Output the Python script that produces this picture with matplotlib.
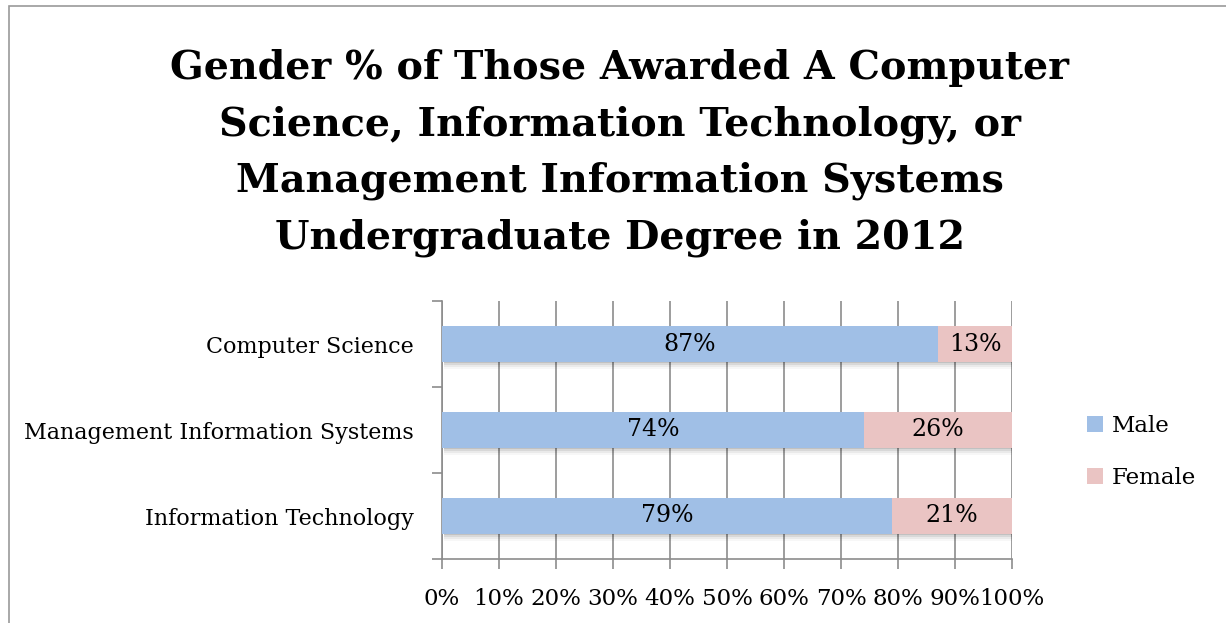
import matplotlib
matplotlib.use("Agg")
import matplotlib.pyplot as plt
from matplotlib.patches import Rectangle
import numpy as np

categories = ["Information Technology", "Management Information Systems", "Computer Science"]
male = [79, 74, 87]
female = [21, 26, 13]
x_ticks = [0, 10, 20, 30, 40, 50, 60, 70, 80, 90, 100]
title = ("Gender % of Those Awarded A Computer\nScience, Information Technology, or\n"
         "Management Information Systems\nUndergraduate Degree in 2012")

male_color = "#A0BFE6"
female_color = "#EAC4C3"
grid_color = "#8C8C8C"
font = "DejaVu Serif"

W, H = 1226, 623
fig = plt.figure(figsize=(W / 100, H / 100), dpi=100)
fig.patch.set_facecolor("white")

# outer frame (cut off at right/bottom)
fig.add_artist(Rectangle((8.5 / W, -0.1), 1.2, 1 - 6.5 / H + 0.1, transform=fig.transFigure,
                         fill=False, edgecolor="#9A9A9A", linewidth=1.2))

ax = fig.add_axes([442 / W, 1 - 559 / H, (1012 - 442) / W, (559 - 301) / H])
y = np.arange(len(categories))
bh = 0.41

# subtle shadows below bars
totals = [m + f for m, f in zip(male, female)]
for off, a in [(0.02, 0.10), (0.04, 0.08), (0.06, 0.05), (0.08, 0.03)]:
    ax.barh(y - off, totals, height=bh, left=0.4,
            color="black", alpha=a, linewidth=0, zorder=2)

ax.barh(y, male, height=bh, color=male_color, label="Male", zorder=3)
ax.barh(y, female, height=bh, left=male, color=female_color, label="Female", zorder=3)

for i in range(len(categories)):
    ax.text(male[i] / 2, y[i], f"{male[i]}%", ha="center", va="center",
            fontsize=17, family=font, color="black", zorder=4)
    ax.text(male[i] + female[i] / 2, y[i], f"{female[i]}%", ha="center", va="center",
            fontsize=17, family=font, color="black", zorder=4)

ax.set_xlim(0, 100)
ax.set_ylim(-0.5, len(categories) - 0.5)
ax.set_xticks(x_ticks)
ax.set_xticklabels([f"{t}%" for t in x_ticks], family=font, fontsize=16.5)
ax.set_yticks(y)
ax.set_yticklabels(categories, family=font, fontsize=16)
ax.set_yticks(np.arange(-0.5, len(categories)), minor=True)
ax.tick_params(axis="y", which="major", length=0, pad=20)
ax.tick_params(axis="y", which="minor", length=7, color=grid_color, width=1.2)
ax.tick_params(axis="x", length=7, color=grid_color, width=1.2, pad=14)
ax.xaxis.grid(True, color=grid_color, linewidth=1.2, zorder=0)
ax.set_axisbelow(True)
for s in ["top", "right"]:
    ax.spines[s].set_visible(False)
for s in ["left", "bottom"]:
    ax.spines[s].set_color(grid_color)
    ax.spines[s].set_linewidth(1.2)

fig.text(620 / W, 1 - 153 / H, title, ha="center", va="center", family=font,
         fontweight="bold", fontsize=28.5, linespacing=1.6)

leg = fig.legend(loc="center left", bbox_to_anchor=(1066 / W, 1 - 452 / H), frameon=False,
                 prop={"family": font, "size": 16.5}, handlelength=0.7, handleheight=0.7,
                 handletextpad=0.4, labelspacing=1.3)

fig.savefig("out.png", dpi=100)
